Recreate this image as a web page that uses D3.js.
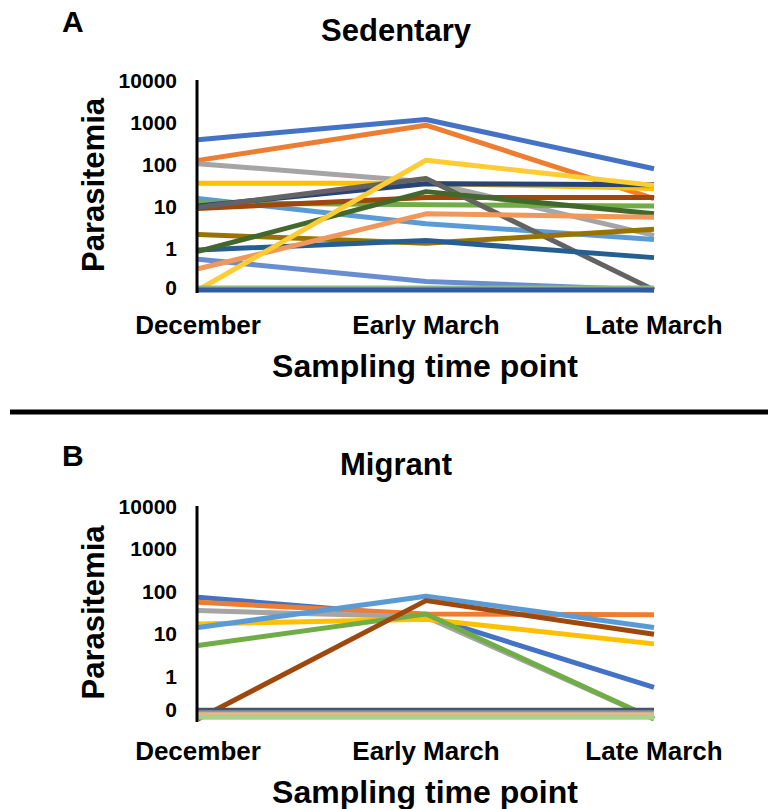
<!DOCTYPE html>
<html lang="en">
<head>
<meta charset="UTF-8">
<title>Parasitemia - Sedentary vs Migrant</title>
<script src="https://d3js.org/d3.v7.min.js"></script>
<style>
  body { margin: 0; background: #fff; }
  text { font-family: "Liberation Sans", Arial, sans-serif; font-weight: bold; fill: #000; }
  .series { fill: none; stroke-width: 5; stroke-linejoin: round; }
</style>
</head>
<body>
<svg width="768" height="809"></svg>
<script>
// time points and y ticks (0.1 is shown as "0" on the log axis)
const timePoints = ["December", "Early March", "Late March"];
const yTicks = [0.1, 1, 10, 100, 1000, 10000];

// Sedentary birds
const sedentaryColors = ["#4472C4", "#ED7D31", "#A5A5A5", "#FFC000", "#5B9BD5", "#70AD47",
  "#264478", "#9E480E", "#636363", "#997300", "#255E91", "#43682B",
  "#698ED0", "#F1975A", "#FFCD33", "#8CB88A", "#335AA1"];
const sedentaryValues = [
  [380, 1150, 77],
  [122, 840, 15],
  [102, 38, 2],
  [35, 35, 26],
  [15, 3.8, 1.6],
  [12, 10.7, 10],
  [10, 34, 32],
  [8.7, 16, 16],
  [9.3, 45, 0.1],
  [2.1, 1.3, 2.8],
  [0.9, 1.5, 0.59],
  [0.83, 22, 6.5],
  [0.54, 0.16, 0.1],
  [0.32, 6.5, 5.4],
  [0.1, 123, 31],
  [0.112, 0.112, 0.112],
  [0.1, 0.1, 0.1]
];

// Migrant birds
const migrantColors = ["#4472C4", "#ED7D31", "#A5A5A5", "#FFC000", "#5B9BD5", "#70AD47",
  "#9E480E", "#44546A", "#8497B0", "#F4B183", "#A9D18E"];
const migrantValues = [
  [72, 26, 0.55],
  [55, 29, 28],
  [35, 25, 0.1],
  [17, 22, 5.8],
  [14, 76, 14],
  [5.3, 29, 0.1],
  [0.1, 60, 9.8],
  [0.16, 0.16, 0.16],
  [0.14, 0.14, 0.14],
  [0.125, 0.125, 0.125],
  [0.11, 0.11, 0.11]
];

const svg = d3.select("svg");

function drawPanel(opts) {
  const g = svg.append("g");

  const x = d3.scalePoint()
    .domain(timePoints)
    .range([198, 654]);

  const y = d3.scaleLog()
    .domain([0.1, 10000])
    .range([opts.bottom, opts.top]);

  // panel letter and title
  g.append("text")
    .attr("x", 62).attr("y", opts.letterY)
    .attr("font-size", 30)
    .text(opts.letter);

  g.append("text")
    .attr("x", 396).attr("y", opts.titleY)
    .attr("text-anchor", "middle")
    .attr("font-size", 31)
    .text(opts.title);

  // y tick labels
  g.selectAll(".ytick")
    .data(yTicks)
    .enter().append("text")
    .attr("class", "ytick")
    .attr("x", 177)
    .attr("y", d => y(d) + (d === 0.1 ? opts.zeroShift : 0))
    .attr("dy", "0.36em")
    .attr("text-anchor", "end")
    .attr("font-size", 21)
    .text(d => d === 0.1 ? "0" : d3.format("d")(d));

  g.append("text")
    .attr("transform", `translate(104,${(opts.top + opts.bottom) / 2}) rotate(-90)`)
    .attr("text-anchor", "middle")
    .attr("font-size", 31)
    .text("Parasitemia");

  // lines
  const line = d3.line()
    .x((d, i) => x(timePoints[i]))
    .y(d => y(d));

  g.selectAll(".series")
    .data(opts.values)
    .enter().append("path")
    .attr("class", "series")
    .attr("stroke", (d, i) => opts.colors[i])
    .attr("d", line);

  // vertical axis line
  g.append("line")
    .attr("x1", 197).attr("x2", 197)
    .attr("y1", y(10000)).attr("y2", y(0.1) + 3)
    .attr("stroke", "#000")
    .attr("stroke-width", 3);

  // category labels
  g.selectAll(".xlab")
    .data(timePoints)
    .enter().append("text")
    .attr("x", d => x(d))
    .attr("y", opts.catY)
    .attr("text-anchor", "middle")
    .attr("font-size", 26)
    .text(d => d);

  g.append("text")
    .attr("x", 425).attr("y", opts.catY + 43)
    .attr("text-anchor", "middle")
    .attr("font-size", 32)
    .text("Sampling time point");
}

drawPanel({
  letter: "A", letterY: 32, title: "Sedentary", titleY: 41,
  top: 80, bottom: 290, zeroShift: -3, catY: 334,
  colors: sedentaryColors, values: sedentaryValues
});

// divider between panels
svg.append("line")
  .attr("x1", 10).attr("x2", 768)
  .attr("y1", 412).attr("y2", 412)
  .attr("stroke", "#000")
  .attr("stroke-width", 5);

drawPanel({
  letter: "B", letterY: 466, title: "Migrant", titleY: 475,
  top: 506, bottom: 719, zeroShift: -10, catY: 760,
  colors: migrantColors, values: migrantValues
});
</script>
</body>
</html>
